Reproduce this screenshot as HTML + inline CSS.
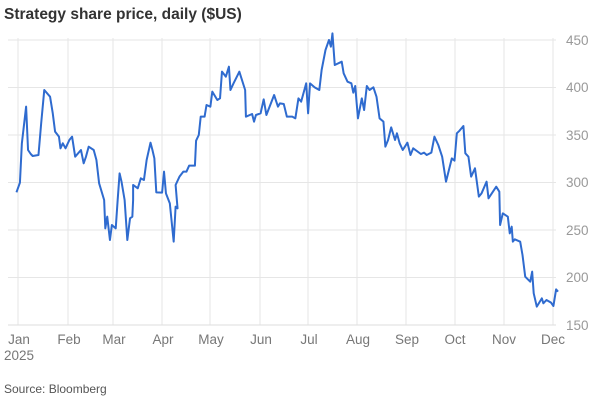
<!DOCTYPE html>
<html><head><style>
body{margin:0;background:#fff;width:600px;height:404px;overflow:hidden;font-family:"Liberation Sans",sans-serif}
</style></head><body>
<svg width="600" height="404" xmlns="http://www.w3.org/2000/svg" font-family="Liberation Sans, sans-serif">
<text x="4" y="19" font-size="15.5" font-weight="bold" fill="#333">Strategy share price, daily ($US)</text>
<g stroke="#e6e6e6" stroke-width="1">
<line x1="8" x2="556" y1="40" y2="40"/><line x1="8" x2="556" y1="87.5" y2="87.5"/><line x1="8" x2="556" y1="135" y2="135"/>
<line x1="8" x2="556" y1="182.5" y2="182.5"/><line x1="8" x2="556" y1="230" y2="230"/><line x1="8" x2="556" y1="277.5" y2="277.5"/>
<line x1="18" x2="18" y1="38" y2="325"/><line x1="68" x2="68" y1="38" y2="325"/><line x1="113" x2="113" y1="38" y2="325"/>
<line x1="162" x2="162" y1="38" y2="325"/><line x1="210" x2="210" y1="38" y2="325"/><line x1="260" x2="260" y1="38" y2="325"/>
<line x1="308" x2="308" y1="38" y2="325"/><line x1="357" x2="357" y1="38" y2="325"/><line x1="406" x2="406" y1="38" y2="325"/>
<line x1="455" x2="455" y1="38" y2="325"/><line x1="504" x2="504" y1="38" y2="325"/><line x1="553" x2="553" y1="38" y2="325"/>
</g>
<line x1="8" x2="556" y1="325" y2="325" stroke="#ddd"/>
<g font-size="13.5" fill="#999">
<text x="566" y="45">450</text><text x="566" y="92">400</text><text x="566" y="140">350</text><text x="566" y="187">300</text>
<text x="566" y="235">250</text><text x="566" y="282">200</text><text x="566" y="330">150</text>
</g>
<g font-size="13.5" fill="#777" text-anchor="middle">
<text x="19" y="344">Jan</text><text x="69" y="344">Feb</text><text x="114" y="344">Mar</text><text x="163" y="344">Apr</text>
<text x="211" y="344">May</text><text x="261" y="344">Jun</text><text x="309" y="344">Jul</text><text x="358" y="344">Aug</text>
<text x="407" y="344">Sep</text><text x="455" y="344">Oct</text><text x="504" y="344">Nov</text><text x="553" y="344">Dec</text>
</g>
<text x="4" y="360" font-size="13.5" fill="#777">2025</text>
<text x="4" y="393" font-size="12" fill="#555">Source: Bloomberg</text>
<g transform="matrix(0.3863 0 0 0.33333 -2.09 0)">
<polyline fill="none" stroke="#2f6bcf" stroke-width="2" vector-effect="non-scaling-stroke" stroke-linejoin="round" points="
48,577 57,548 62,430 73,320 78,450 85,462 90,468 105,465 112,370 120,270 135,290 142,340 148,395 158,410 162,445 168,430 175,445 185,420 192,410 200,470 215,450 222,490 228,470 235,440 248,450 255,480 262,550 275,600
278,685 283,650 290,720 295,675 305,685 310,600 315,520 320,545 328,600 335,720 342,655 348,650 350,600 350,555 362,565 370,535 378,540 385,480 395,428 400,450 405,475 410,577 425,578 430,515 435,580 445,610 455,725 460,620 465,625 460,555 470,530 480,515 488,515 495,497 510,497 513,422 520,405 525,350 535,350 540,315 550,320 555,275 568,300 575,295 580,215 590,230 598,200 602,270 610,250 625,215 640,270 642,350 658,342 663,365 668,345 680,340 688,298 695,345 715,285 725,320 730,310 740,312 748,350 762,350 770,355 778,295 785,305 798,250 803,340 808,250 820,262 832,270 838,210 848,150 857,120 862,140 866,100 872,195 890,185 895,220 905,245 915,250 920,278 925,258 932,355 942,295 948,330 955,258 962,270 972,262 980,290 988,355 998,365 1003,440 1010,420 1018,382 1028,420 1033,400 1040,430 1048,450 1060,428 1068,465 1075,445 1095,462 1103,458 1110,465 1122,458 1130,410 1140,435 1150,470 1160,545 1175,475 1182,482 1188,400 1195,392 1205,378 1210,460 1218,470 1225,530 1235,505 1245,590 1252,580 1265,545 1270,595 1290,560 1298,575
1300,675 1307,640 1320,650 1325,700 1330,680 1333,725 1338,718 1352,725 1358,765 1365,830 1378,845 1383,815 1387,880 1395,920 1408,895 1412,910 1420,900 1432,908 1438,918 1445,868 1450,875"/>
</g>
</svg>
</body></html>
